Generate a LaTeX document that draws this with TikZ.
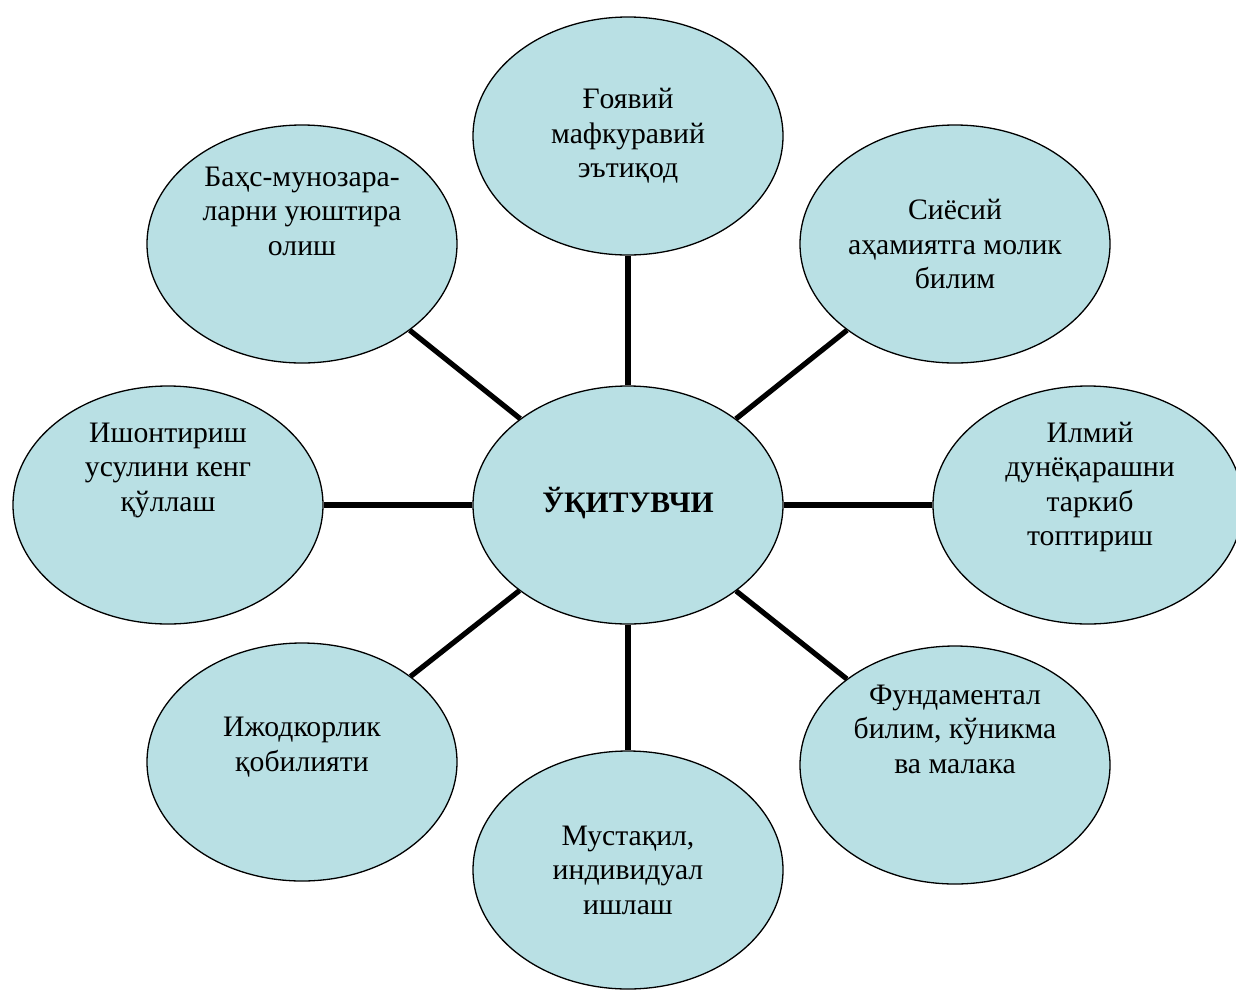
\documentclass[tikz,border=0pt]{standalone}
\usepackage{fontspec}
\setmainfont{Liberation Serif}
\usetikzlibrary{shapes.geometric}
\definecolor{fillblue}{RGB}{185,224,228}
\tikzset{
  oval/.style={ellipse, draw=black, line width=1.3pt, fill=fillblue, minimum width=310pt, minimum height=238pt, inner sep=0pt},
  txt/.style={align=center, font=\fontsize{29.7}{34.5}\selectfont, inner sep=0pt},
  link/.style={line width=5.2pt, line cap=butt}
}
\begin{document}
\begin{tikzpicture}[x=1pt,y=-1pt]
\useasboundingbox (0,0) rectangle (1236,991);
% ellipses
\node[oval] (c)  at (628,505) {};
\node[oval] (t)  at (628,136) {};
\node[oval] (tr) at (955,244) {};
\node[oval] (r)  at (1088,505) {};
\node[oval] (br) at (955,765) {};
\node[oval] (b)  at (628,870) {};
\node[oval] (bl) at (302,762) {};
\node[oval] (l)  at (168,505) {};
\node[oval] (tl) at (302,244) {};
% connectors
\foreach \n in {t,tr,r,br,b,bl,l,tl}{
  \draw[link] (c) -- (\n);
}
% texts
\node[txt] (tc)  at (628,503) {\textbf{ЎҚИТУВЧИ}};
\node[txt] (tt)  at (628,136) {Ғоявий\\мафкуравий\\эътиқод};
\node[txt] (ttr) at (955,244) {Сиёсий\\аҳамиятга молик\\билим};
\node[txt] (tr2) at (1090,487) {Илмий\\дунёқарашни\\таркиб\\топтириш};
\node[txt] (tbr) at (955,729) {Фундаментал\\билим, кўникма\\ва малака};
\node[txt] (tb)  at (628,870) {Мустақил,\\индивидуал\\ишлаш};
\node[txt] (tbl) at (302,747) {Ижодкорлик\\қобилияти};
\node[txt] (tl2) at (168,470) {Ишонтириш\\усулини кенг\\қўллаш};
\node[txt] (ttl) at (302,211) {Баҳс-мунозара-\\ларни уюштира\\олиш};
\end{tikzpicture}
\end{document}
